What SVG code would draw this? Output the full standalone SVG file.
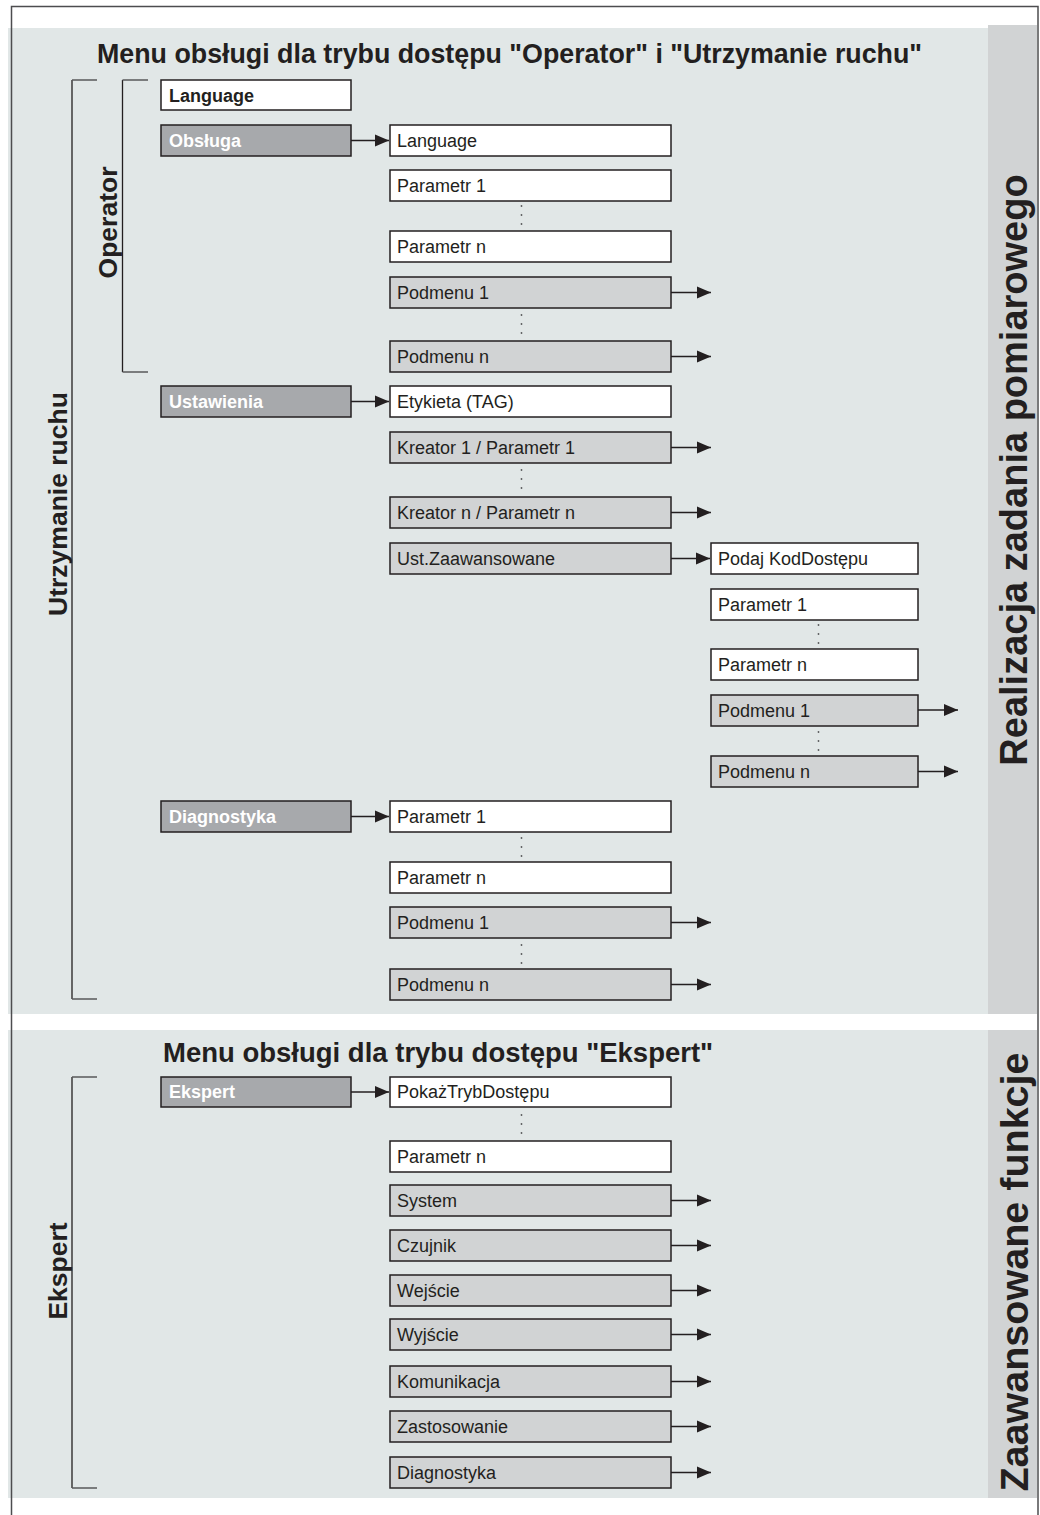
<svg xmlns="http://www.w3.org/2000/svg" width="1040" height="1515" viewBox="0 0 1040 1515">
<style>
.bgl{fill:#e1e7e7}
.bar{fill:#d1d3d4}
.w{fill:#ffffff;stroke:#231f20;stroke-width:1.5}
.g{fill:#d1d3d4;stroke:#231f20;stroke-width:1.5}
.d{fill:#a7a9ac;stroke:#231f20;stroke-width:1.5}
.t{font-family:"Liberation Sans",Arial,sans-serif;font-size:18px;fill:#231f20}
.tb{font-family:"Liberation Sans",Arial,sans-serif;font-size:18px;font-weight:bold;fill:#231f20}
.tw{font-family:"Liberation Sans",Arial,sans-serif;font-size:18px;font-weight:bold;fill:#ffffff}
.h{font-family:"Liberation Sans",Arial,sans-serif;font-size:26.5px;font-weight:bold;fill:#231f20}
.side{font-family:"Liberation Sans",Arial,sans-serif;font-size:38px;font-weight:bold;fill:#231f20}
.br{fill:none;stroke:#231f20;stroke-width:1.3}
.tk{fill:none;stroke:#58595b;stroke-width:1.3}
.c{fill:none;stroke:#231f20;stroke-width:1.5}
.dot{fill:#58595b}
</style>
<defs>
<marker id="ah" markerUnits="userSpaceOnUse" markerWidth="14" markerHeight="13" refX="14" refY="6.5" orient="auto">
<path d="M0,0.5 L14,6.5 L0,12.5 z" fill="#231f20"/>
</marker>
</defs>
<rect x="0" y="0" width="1040" height="1515" fill="#ffffff"/>
<g id="frame">
<rect class="bgl" x="8" y="28" width="980" height="986"/>
<rect class="bar" x="988" y="25" width="49" height="989"/>
<rect class="bgl" x="8" y="1030" width="980" height="468"/>
<rect class="bar" x="988" y="1030" width="49" height="468"/>
<path d="M11.5,1515 V6.5 H1038 V1515" fill="none" stroke="#4d4d4f" stroke-width="1.5"/>
</g>
<g id="titles">
<text class="h" x="97" y="63" style="font-size:26.8px">Menu obsługi dla trybu dostępu "Operator" i "Utrzymanie ruchu"</text>
<text class="h" x="163" y="1062" style="font-size:27.5px">Menu obsługi dla trybu dostępu "Ekspert"</text>
<text class="side" transform="translate(1027,470) rotate(-90)" text-anchor="middle">Realizacja zadania pomiarowego</text>
<text class="side" transform="translate(1028,1272) rotate(-90)" text-anchor="middle" style="font-size:39.5px">Zaawansowane funkcje</text>
</g>
<g id="brackets">
<path class="br" d="M72,80 V999"/>
<path class="tk" d="M72,80 H97 M72,999 H97"/>
<path class="br" d="M122.5,80 V372"/>
<path class="tk" d="M122.5,80 H148 M122.5,372 H148"/>
<path class="br" d="M72,1077 V1488"/>
<path class="tk" d="M72,1077 H97 M72,1488 H97"/>
<text class="h" transform="translate(67,504) rotate(-90)" text-anchor="middle">Utrzymanie ruchu</text>
<text class="h" transform="translate(117,222.5) rotate(-90)" text-anchor="middle">Operator</text>
<text class="h" transform="translate(67,1271) rotate(-90)" text-anchor="middle">Ekspert</text>
</g>
<g id="connectors">
<path class="c" marker-end="url(#ah)" d="M351,140.5 H389"/>
<path class="c" marker-end="url(#ah)" d="M351,401.5 H389"/>
<path class="c" marker-end="url(#ah)" d="M351,816.5 H389"/>
<path class="c" marker-end="url(#ah)" d="M351,1092 H389"/>
<path class="c" marker-end="url(#ah)" d="M671,558.5 H710"/>
<path class="c" marker-end="url(#ah)" d="M671,292.5 H711"/>
<path class="c" marker-end="url(#ah)" d="M671,356.5 H711"/>
<path class="c" marker-end="url(#ah)" d="M671,447.5 H711"/>
<path class="c" marker-end="url(#ah)" d="M671,512.5 H711"/>
<path class="c" marker-end="url(#ah)" d="M918,710 H958"/>
<path class="c" marker-end="url(#ah)" d="M918,771.5 H958"/>
<path class="c" marker-end="url(#ah)" d="M671,922.5 H711"/>
<path class="c" marker-end="url(#ah)" d="M671,984.5 H711"/>
<path class="c" marker-end="url(#ah)" d="M671,1200.5 H711"/>
<path class="c" marker-end="url(#ah)" d="M671,1245.5 H711"/>
<path class="c" marker-end="url(#ah)" d="M671,1290.5 H711"/>
<path class="c" marker-end="url(#ah)" d="M671,1334.5 H711"/>
<path class="c" marker-end="url(#ah)" d="M671,1381.5 H711"/>
<path class="c" marker-end="url(#ah)" d="M671,1426.5 H711"/>
<path class="c" marker-end="url(#ah)" d="M671,1472.5 H711"/>
</g>
<g id="dots">
<circle class="dot" cx="521.5" cy="206" r="0.9"/><circle class="dot" cx="521.5" cy="215" r="0.9"/><circle class="dot" cx="521.5" cy="224" r="0.9"/>
<circle class="dot" cx="521.5" cy="315" r="0.9"/><circle class="dot" cx="521.5" cy="324" r="0.9"/><circle class="dot" cx="521.5" cy="333" r="0.9"/>
<circle class="dot" cx="521.5" cy="470" r="0.9"/><circle class="dot" cx="521.5" cy="479" r="0.9"/><circle class="dot" cx="521.5" cy="488" r="0.9"/>
<circle class="dot" cx="818.5" cy="625" r="0.9"/><circle class="dot" cx="818.5" cy="634" r="0.9"/><circle class="dot" cx="818.5" cy="643" r="0.9"/>
<circle class="dot" cx="818.5" cy="732" r="0.9"/><circle class="dot" cx="818.5" cy="741" r="0.9"/><circle class="dot" cx="818.5" cy="750" r="0.9"/>
<circle class="dot" cx="521.5" cy="838" r="0.9"/><circle class="dot" cx="521.5" cy="847" r="0.9"/><circle class="dot" cx="521.5" cy="856" r="0.9"/>
<circle class="dot" cx="521.5" cy="945" r="0.9"/><circle class="dot" cx="521.5" cy="954" r="0.9"/><circle class="dot" cx="521.5" cy="963" r="0.9"/>
<circle class="dot" cx="521.5" cy="1115" r="0.9"/><circle class="dot" cx="521.5" cy="1124" r="0.9"/><circle class="dot" cx="521.5" cy="1133" r="0.9"/>
</g>
<g id="n-language-top"><rect class="w" x="161" y="80" width="190" height="30"/><text class="tb" x="169" y="101.5">Language</text></g>
<g id="n-obsluga"><rect class="d" x="161" y="125" width="190" height="31"/><text class="tw" x="169" y="146.5">Obsługa</text></g>
<g id="n-language"><rect class="w" x="390" y="125" width="281" height="31"/><text class="t" x="397" y="146.5">Language</text></g>
<g id="n-op-param1"><rect class="w" x="390" y="170" width="281" height="31"/><text class="t" x="397" y="191.5">Parametr 1</text></g>
<g id="n-op-paramn"><rect class="w" x="390" y="231" width="281" height="31"/><text class="t" x="397" y="252.5">Parametr n</text></g>
<g id="n-op-podmenu1"><rect class="g" x="390" y="277" width="281" height="31"/><text class="t" x="397" y="298.5">Podmenu 1</text></g>
<g id="n-op-podmenun"><rect class="g" x="390" y="341" width="281" height="31"/><text class="t" x="397" y="362.5">Podmenu n</text></g>
<g id="n-ustawienia"><rect class="d" x="161" y="386" width="190" height="31"/><text class="tw" x="169" y="407.5">Ustawienia</text></g>
<g id="n-etykieta"><rect class="w" x="390" y="386" width="281" height="31"/><text class="t" x="397" y="407.5">Etykieta (TAG)</text></g>
<g id="n-kreator1"><rect class="g" x="390" y="432" width="281" height="31"/><text class="t" x="397" y="453.5">Kreator 1 / Parametr 1</text></g>
<g id="n-kreatorn"><rect class="g" x="390" y="497" width="281" height="31"/><text class="t" x="397" y="518.5">Kreator n / Parametr n</text></g>
<g id="n-ustzaaw"><rect class="g" x="390" y="543" width="281" height="31"/><text class="t" x="397" y="564.5">Ust.Zaawansowane</text></g>
<g id="n-podaj"><rect class="w" x="711" y="543" width="207" height="31"/><text class="t" x="718" y="564.5">Podaj KodDostępu</text></g>
<g id="n-uz-param1"><rect class="w" x="711" y="589" width="207" height="31"/><text class="t" x="718" y="610.5">Parametr 1</text></g>
<g id="n-uz-paramn"><rect class="w" x="711" y="649" width="207" height="31"/><text class="t" x="718" y="670.5">Parametr n</text></g>
<g id="n-uz-podmenu1"><rect class="g" x="711" y="695" width="207" height="31"/><text class="t" x="718" y="716.5">Podmenu 1</text></g>
<g id="n-uz-podmenun"><rect class="g" x="711" y="756" width="207" height="31"/><text class="t" x="718" y="777.5">Podmenu n</text></g>
<g id="n-diagnostyka"><rect class="d" x="161" y="801" width="190" height="31"/><text class="tw" x="169" y="822.5">Diagnostyka</text></g>
<g id="n-dg-param1"><rect class="w" x="390" y="801" width="281" height="31"/><text class="t" x="397" y="822.5">Parametr 1</text></g>
<g id="n-dg-paramn"><rect class="w" x="390" y="862" width="281" height="31"/><text class="t" x="397" y="883.5">Parametr n</text></g>
<g id="n-dg-podmenu1"><rect class="g" x="390" y="907" width="281" height="31"/><text class="t" x="397" y="928.5">Podmenu 1</text></g>
<g id="n-dg-podmenun"><rect class="g" x="390" y="969" width="281" height="31"/><text class="t" x="397" y="990.5">Podmenu n</text></g>
<g id="n-ekspert"><rect class="d" x="161" y="1077" width="190" height="30"/><text class="tw" x="169" y="1098">Ekspert</text></g>
<g id="n-pokaz"><rect class="w" x="390" y="1077" width="281" height="30"/><text class="t" x="397" y="1098">PokażTrybDostępu</text></g>
<g id="n-ex-paramn"><rect class="w" x="390" y="1141" width="281" height="31"/><text class="t" x="397" y="1162.5">Parametr n</text></g>
<g id="n-system"><rect class="g" x="390" y="1185" width="281" height="31"/><text class="t" x="397" y="1206.5">System</text></g>
<g id="n-czujnik"><rect class="g" x="390" y="1230" width="281" height="31"/><text class="t" x="397" y="1251.5">Czujnik</text></g>
<g id="n-wejscie"><rect class="g" x="390" y="1275" width="281" height="31"/><text class="t" x="397" y="1296.5">Wejście</text></g>
<g id="n-wyjscie"><rect class="g" x="390" y="1319" width="281" height="31"/><text class="t" x="397" y="1340.5">Wyjście</text></g>
<g id="n-komunikacja"><rect class="g" x="390" y="1366" width="281" height="31"/><text class="t" x="397" y="1387.5">Komunikacja</text></g>
<g id="n-zastosowanie"><rect class="g" x="390" y="1411" width="281" height="31"/><text class="t" x="397" y="1432.5">Zastosowanie</text></g>
<g id="n-ex-diagnostyka"><rect class="g" x="390" y="1457" width="281" height="31"/><text class="t" x="397" y="1478.5">Diagnostyka</text></g>
</svg>
